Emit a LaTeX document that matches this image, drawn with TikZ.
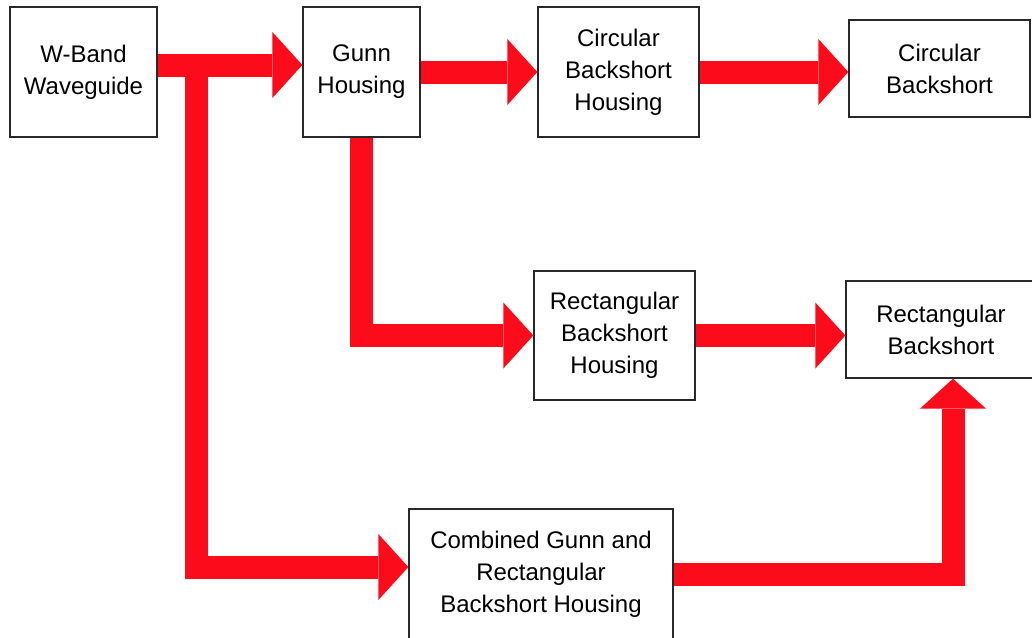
\documentclass[tikz,border=0pt]{standalone}
\usepackage{fontspec}
\setmainfont{Liberation Sans}
\usetikzlibrary{arrows.meta}
\definecolor{arrred}{RGB}{252,12,26}
\definecolor{boxline}{RGB}{40,40,40}
\begin{document}
\begin{tikzpicture}[x=1pt,y=-1pt,
  box/.style={draw=boxline, line width=1.3pt, fill=white, align=center, inner sep=0pt,
    font=\fontsize{24}{32}\selectfont},
  flow/.style={draw=arrred, line width=23pt, line join=miter,
    -{Triangle[length=30pt,width=66pt,line width=0pt]}}]
\useasboundingbox (0,0) rectangle (1032,637);
\fill[white] (0,0) rectangle (1032,637);

\node[box, minimum width=147pt, minimum height=130pt] (wband) at (83.5,72) {W-Band\\Waveguide};
\node[box, minimum width=117pt, minimum height=130pt] (gunn) at (361.5,72) {Gunn\\Housing};
\node[box, minimum width=161pt, minimum height=130pt] (chous) at (618.5,72) {Circular\\Backshort\\Housing};
\node[box, minimum width=181pt, minimum height=97pt] (cback) at (939.5,68.5) {Circular\\Backshort};
\node[box, minimum width=161pt, minimum height=129pt] (rhous) at (614.5,335.5) {Rectangular\\Backshort\\Housing};
\node[box, minimum width=190pt, minimum height=97pt] (rback) at (941,329.5) {Rectangular\\Backshort};
\node[box, minimum width=264pt, minimum height=131pt] (comb) at (541,574.5) {Combined Gunn and\\Rectangular\\Backshort Housing};

\coordinate (br) at (196,65);

\draw[flow] ([yshift=7pt]wband.east) -- ([yshift=7pt]gunn.west);
\draw[flow] (br) |- ([yshift=7.5pt]comb.west);
\draw[flow] (gunn.east) -- (chous.west);
\draw[flow] (chous.east) -- (chous.east -| cback.west);
\draw[flow] (gunn.south) |- (rhous.west);
\draw[flow] (rhous.east) -- (rhous.east -| rback.west);
\draw[flow] (comb.east) -| ([xshift=12pt]rback.south);
\end{tikzpicture}
\end{document}
